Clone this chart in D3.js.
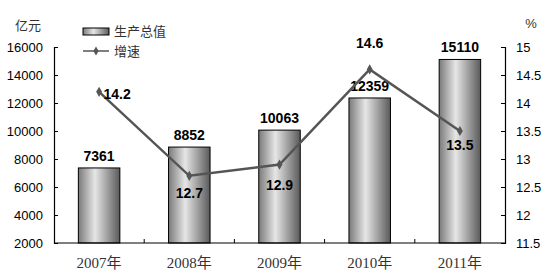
<!DOCTYPE html>
<html>
<head>
<meta charset="utf-8">
<script src="https://cdn.jsdelivr.net/npm/d3@7"></script>
<style>
  body { margin: 0; background: #fff; }
  svg { font-family: Arial, "Liberation Sans", "Noto Sans CJK SC", sans-serif; }
</style>
</head>
<body>
<div id="chart"></div>
<script>
// Data
const years = ['2007年', '2008年', '2009年', '2010年', '2011年'];
const output = [7361, 8852, 10063, 12359, 15110];
const growth = [14.2, 12.7, 12.9, 14.6, 13.5];
const leftTicks = [2000, 4000, 6000, 8000, 10000, 12000, 14000, 16000];
const rightTicks = [11.5, 12, 12.5, 13, 13.5, 14, 14.5, 15];

const width = 550, height = 278;
const margin = { top: 47, right: 45, bottom: 35, left: 54 };

const svg = d3.select('#chart')
    .append('svg')
    .attr('width', width)
    .attr('height', height);

// Bar gradient (cylinder look)
const grad = svg.append('defs').append('linearGradient')
    .attr('id', 'barGrad')
    .attr('x1', '0%').attr('x2', '100%').attr('y1', '0%').attr('y2', '0%');
grad.append('stop').attr('offset', '0%').attr('stop-color', '#7a7a7a');
grad.append('stop').attr('offset', '40%').attr('stop-color', '#e6e6e6');
grad.append('stop').attr('offset', '100%').attr('stop-color', '#5a5a5a');

const x = d3.scaleBand()
    .domain(years)
    .range([margin.left, width - margin.right])
    .paddingInner(0.54)
    .paddingOuter(0.27);

const yL = d3.scaleLinear()
    .domain([2000, 16000])
    .range([height - margin.bottom, margin.top]);

const yR = d3.scaleLinear()
    .domain([11.5, 15])
    .range([height - margin.bottom, margin.top]);

// Bars
svg.append('g')
    .selectAll('rect')
    .data(output)
    .enter()
    .append('rect')
    .attr('x', (d, i) => x(years[i]))
    .attr('y', d => yL(d))
    .attr('width', x.bandwidth())
    .attr('height', d => yL(2000) - yL(d))
    .attr('fill', 'url(#barGrad)')
    .attr('stroke', '#000')
    .attr('stroke-width', 1);

// Bar labels
svg.append('g')
    .selectAll('text')
    .data(output)
    .enter()
    .append('text')
    .attr('x', (d, i) => x(years[i]) + x.bandwidth() / 2)
    .attr('y', d => yL(d) - 7)
    .attr('text-anchor', 'middle')
    .attr('font-size', '14px')
    .attr('font-weight', 'bold')
    .text(d => d);

// Axes
const bottom = height - margin.bottom;
const leftAxis = d3.axisLeft(yL).tickValues(leftTicks).tickSize(-4).tickPadding(11)
    .tickFormat(d3.format('d'));
const gl = svg.append('g')
    .attr('transform', `translate(${margin.left},0)`)
    .call(leftAxis);

const rightAxis = d3.axisRight(yR).tickValues(rightTicks).tickSize(-4).tickPadding(11)
    .tickFormat(d => d);
const gr = svg.append('g')
    .attr('transform', `translate(${width - margin.right},0)`)
    .call(rightAxis);

[gl, gr].forEach(g => {
    g.attr('font-family', null).attr('font-size', null);
    g.select('.domain').attr('stroke', '#000').attr('stroke-width', 1.2);
    g.selectAll('.tick line').attr('stroke', '#000');
    g.selectAll('.tick text')
        .attr('font-size', '13px')
        .attr('fill', '#000');
});

// Bottom axis line with category dividers
svg.append('line')
    .attr('x1', margin.left).attr('x2', width - margin.right)
    .attr('y1', bottom).attr('y2', bottom)
    .attr('stroke', '#000').attr('stroke-width', 1.2);

const step = x.step();
svg.append('g')
    .selectAll('line')
    .data(years.slice(1))
    .enter()
    .append('line')
    .attr('x1', d => x(d) - step * x.paddingInner() / 2)
    .attr('x2', d => x(d) - step * x.paddingInner() / 2)
    .attr('y1', bottom).attr('y2', bottom - 4)
    .attr('stroke', '#000');

// Category labels
svg.append('g')
    .selectAll('text')
    .data(years)
    .enter()
    .append('text')
    .attr('x', d => x(d) + x.bandwidth() / 2)
    .attr('y', bottom + 25)
    .attr('text-anchor', 'middle')
    .attr('font-size', '15px')
    .style('font-family', '"Liberation Serif", "Noto Sans CJK SC", serif')
    .attr('fill', '#333')
    .text(d => d);

// Growth line
const line = d3.line()
    .x((d, i) => x(years[i]) + x.bandwidth() / 2)
    .y(d => yR(d));

svg.append('path')
    .datum(growth)
    .attr('d', line)
    .attr('fill', 'none')
    .attr('stroke', '#555')
    .attr('stroke-width', 2.5);

svg.append('g')
    .selectAll('path')
    .data(growth)
    .enter()
    .append('path')
    .attr('d', d3.symbol().type(d3.symbolDiamond).size(30))
    .attr('transform', (d, i) => `translate(${x(years[i]) + x.bandwidth() / 2},${yR(d)})`)
    .attr('fill', '#555');

// Growth labels (offsets per point)
const gOffsets = [[18, 7], [0, 22], [0, 25], [0, -21], [0, 19]];
svg.append('g')
    .selectAll('text')
    .data(growth)
    .enter()
    .append('text')
    .attr('x', (d, i) => x(years[i]) + x.bandwidth() / 2 + gOffsets[i][0])
    .attr('y', (d, i) => yR(d) + gOffsets[i][1])
    .attr('text-anchor', 'middle')
    .attr('font-size', '14px')
    .attr('font-weight', 'bold')
    .text(d => d.toFixed(1));

// Unit labels
svg.append('text')
    .attr('x', 28).attr('y', 30)
    .attr('text-anchor', 'middle')
    .attr('font-size', '13px')
    .attr('fill', '#333')
    .text('亿元');

svg.append('text')
    .attr('x', 531).attr('y', 28)
    .attr('text-anchor', 'middle')
    .attr('font-size', '13px')
    .attr('fill', '#333')
    .text('%');

// Legend
const legend = svg.append('g').attr('transform', 'translate(83,27)');
legend.append('rect')
    .attr('x', 0).attr('y', 1)
    .attr('width', 26).attr('height', 7)
    .attr('fill', 'url(#barGrad)')
    .attr('stroke', '#000');
legend.append('text')
    .attr('x', 31).attr('y', 9)
    .attr('font-size', '13px')
    .attr('fill', '#333')
    .text('生产总值');
legend.append('line')
    .attr('x1', 0).attr('x2', 26)
    .attr('y1', 24).attr('y2', 24)
    .attr('stroke', '#555').attr('stroke-width', 1.5);
legend.append('path')
    .attr('d', d3.symbol().type(d3.symbolDiamond).size(24))
    .attr('transform', 'translate(13,24)')
    .attr('fill', '#555');
legend.append('text')
    .attr('x', 31).attr('y', 29)
    .attr('font-size', '13px')
    .attr('fill', '#333')
    .text('增速');
</script>
</body>
</html>
